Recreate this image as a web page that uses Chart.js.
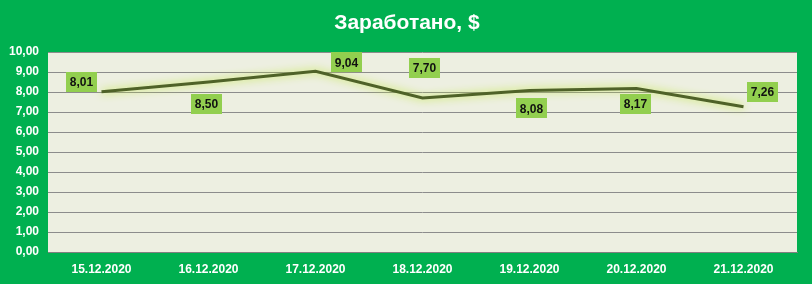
<!DOCTYPE html>
<html>
<head>
<meta charset="utf-8">
<script src="https://cdn.jsdelivr.net/npm/chart.js@4"></script>
<style>
  html, body { margin: 0; padding: 0; background: #00B050; }
  #wrap { width: 812px; height: 284px; }
</style>
</head>
<body>
<div id="wrap"><canvas id="chart" width="812" height="284"></canvas></div>
<script>
const title = "Заработано, $";
const dates = ["15.12.2020", "16.12.2020", "17.12.2020", "18.12.2020", "19.12.2020", "20.12.2020", "21.12.2020"];
const earned = [8.01, 8.50, 9.04, 7.70, 8.08, 8.17, 7.26];

// where each value box sits relative to its point (px)
const labelDx = [-20, -2, 31, 2, 2, -1, 19];
const labelDy = [-10, 22, -9, -30, 18, 15, -15];

const fmt = v => v.toFixed(2).replace(".", ",");

// beige plot area + title
const backdrop = {
  id: "backdrop",
  beforeDraw(chart) {
    const { ctx, chartArea: a } = chart;
    ctx.save();
    ctx.fillStyle = "#EDEFE1";
    ctx.fillRect(a.left, a.top, a.right - a.left, a.bottom - a.top);
    ctx.fillStyle = "#ffffff";
    ctx.font = "bold 21px 'Liberation Sans'";
    ctx.textAlign = "center";
    ctx.textBaseline = "middle";
    ctx.fillText(title, chart.width / 2 + 1, 23);
    ctx.restore();
  },
  // glow under the line
  beforeDatasetDraw(chart) {
    const ctx = chart.ctx;
    ctx.save();
    ctx.shadowColor = "rgba(190, 230, 60, 1)";
    ctx.shadowBlur = 9;
  },
  afterDatasetDraw(chart) {
    chart.ctx.restore();
  }
};

// green value boxes
const valueBoxes = {
  id: "valueBoxes",
  afterDatasetsDraw(chart) {
    const ctx = chart.ctx;
    const meta = chart.getDatasetMeta(0);
    ctx.save();
    ctx.font = "bold 12px 'Liberation Sans'";
    ctx.textAlign = "center";
    ctx.textBaseline = "middle";
    meta.data.forEach((pt, i) => {
      const cx = pt.x + labelDx[i];
      const cy = pt.y + labelDy[i];
      const w = 31, h = 20;
      ctx.fillStyle = "#92CF4F";
      ctx.fillRect(Math.round(cx - w / 2), Math.round(cy - h / 2), w, h);
      ctx.fillStyle = "#111111";
      ctx.fillText(fmt(earned[i]), cx, cy + 1);
    });
    ctx.restore();
  }
};

new Chart(document.getElementById("chart"), {
  type: "line",
  plugins: [backdrop, valueBoxes],
  data: {
    labels: dates,
    datasets: [{
      data: earned,
      borderColor: "#4F6228",
      borderWidth: 3,
      pointRadius: 0,
      tension: 0,
      fill: false
    }]
  },
  options: {
    responsive: false,
    animation: false,
    layout: { padding: { left: 0, right: 15, top: 52, bottom: 0 } },
    plugins: {
      legend: { display: false },
      tooltip: { enabled: false },
      title: { display: false }
    },
    scales: {
      x: {
        offset: true,
        afterFit: s => { s.height = 32; },
        grid: { display: false, drawTicks: false },
        border: { display: true, color: "#808080", width: 1 },
        ticks: {
          color: "#ffffff",
          font: { family: "'Liberation Sans'", size: 12, weight: "bold" },
          padding: 10,
          maxRotation: 0
        }
      },
      y: {
        min: 0,
        max: 10,
        afterFit: s => { s.width = 48; },
        grid: { color: "#8C8C8C", lineWidth: 1, drawTicks: false },
        border: { display: false },
        ticks: {
          stepSize: 1,
          color: "#ffffff",
          font: { family: "'Liberation Sans'", size: 12, weight: "bold" },
          padding: 9,
          callback: v => fmt(v)
        }
      }
    }
  }
});
</script>
</body>
</html>
